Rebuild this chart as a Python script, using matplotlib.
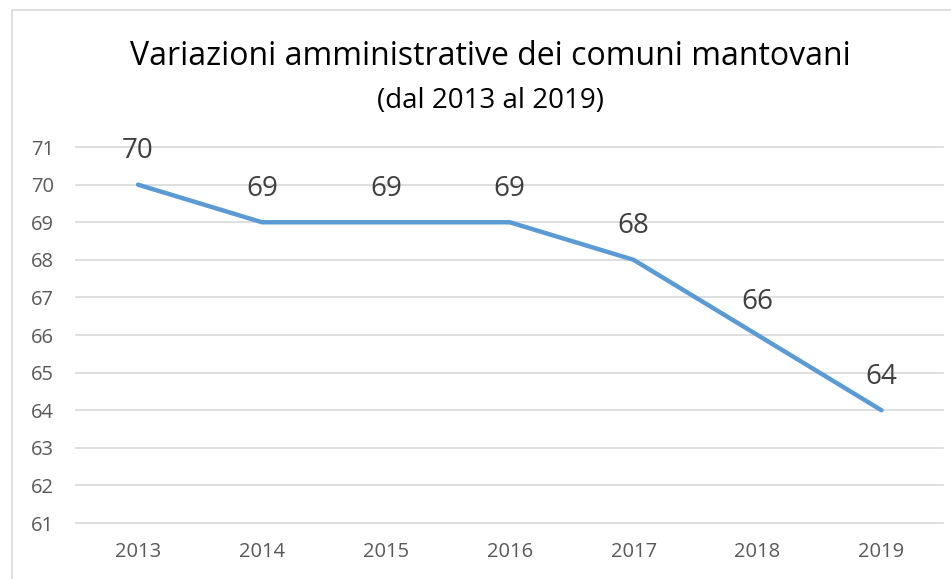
import matplotlib
matplotlib.use("Agg")
import matplotlib.pyplot as plt
from matplotlib.patches import Rectangle

# dati
anni = ["2013", "2014", "2015", "2016", "2017", "2018", "2019"]
comuni = [70, 69, 69, 69, 68, 66, 64]
y_ticks = list(range(61, 72))

plt.rcParams['font.family'] = ['Open Sans', 'DejaVu Sans']

fig = plt.figure(figsize=(9.51, 5.79), dpi=100)
ax = fig.add_axes([0.080, 0.0967, 0.912, 0.6493])

x = list(range(len(anni)))
ax.plot(x, comuni, color="#5B9BD5", linewidth=3.2, solid_capstyle="round", zorder=3)

# etichette dei valori
for xi, v in zip(x, comuni):
    ax.annotate(str(v), (xi, v), xytext=(0, 19), textcoords="offset points",
                ha="center", va="baseline", fontsize=20, color="#404040")

ax.set_xlim(-0.5, len(anni) - 0.5)
ax.set_ylim(61, 71)
ax.set_yticks(y_ticks)
ax.set_xticks(x)
ax.set_xticklabels(anni)
ax.grid(axis="y", color="#D9D9D9", linewidth=1.2)
for gl in ax.get_ygridlines():
    gl.set_clip_on(False)
ax.set_axisbelow(True)
for s in ax.spines.values():
    s.set_visible(False)
ax.tick_params(length=0, labelsize=14.5, labelcolor="#595959")
ax.tick_params(axis="x", pad=14)
ax.tick_params(axis="y", pad=16)

fig.text(0.516, 0.903, "Variazioni amministrative dei comuni mantovani",
         ha="center", va="center", fontsize=23, color="#000000")
fig.text(0.516, 0.825, "(dal 2013 al 2019)", ha="center", va="center",
         fontsize=20, color="#000000")

# bordo del grafico
fig.patches.append(Rectangle((12 / 951, -0.1), 1.2, 1.1 - 10 / 579,
                             transform=fig.transFigure, fill=False,
                             edgecolor="#D9D9D9", linewidth=1.2))

fig.savefig("out.png", dpi=100)
